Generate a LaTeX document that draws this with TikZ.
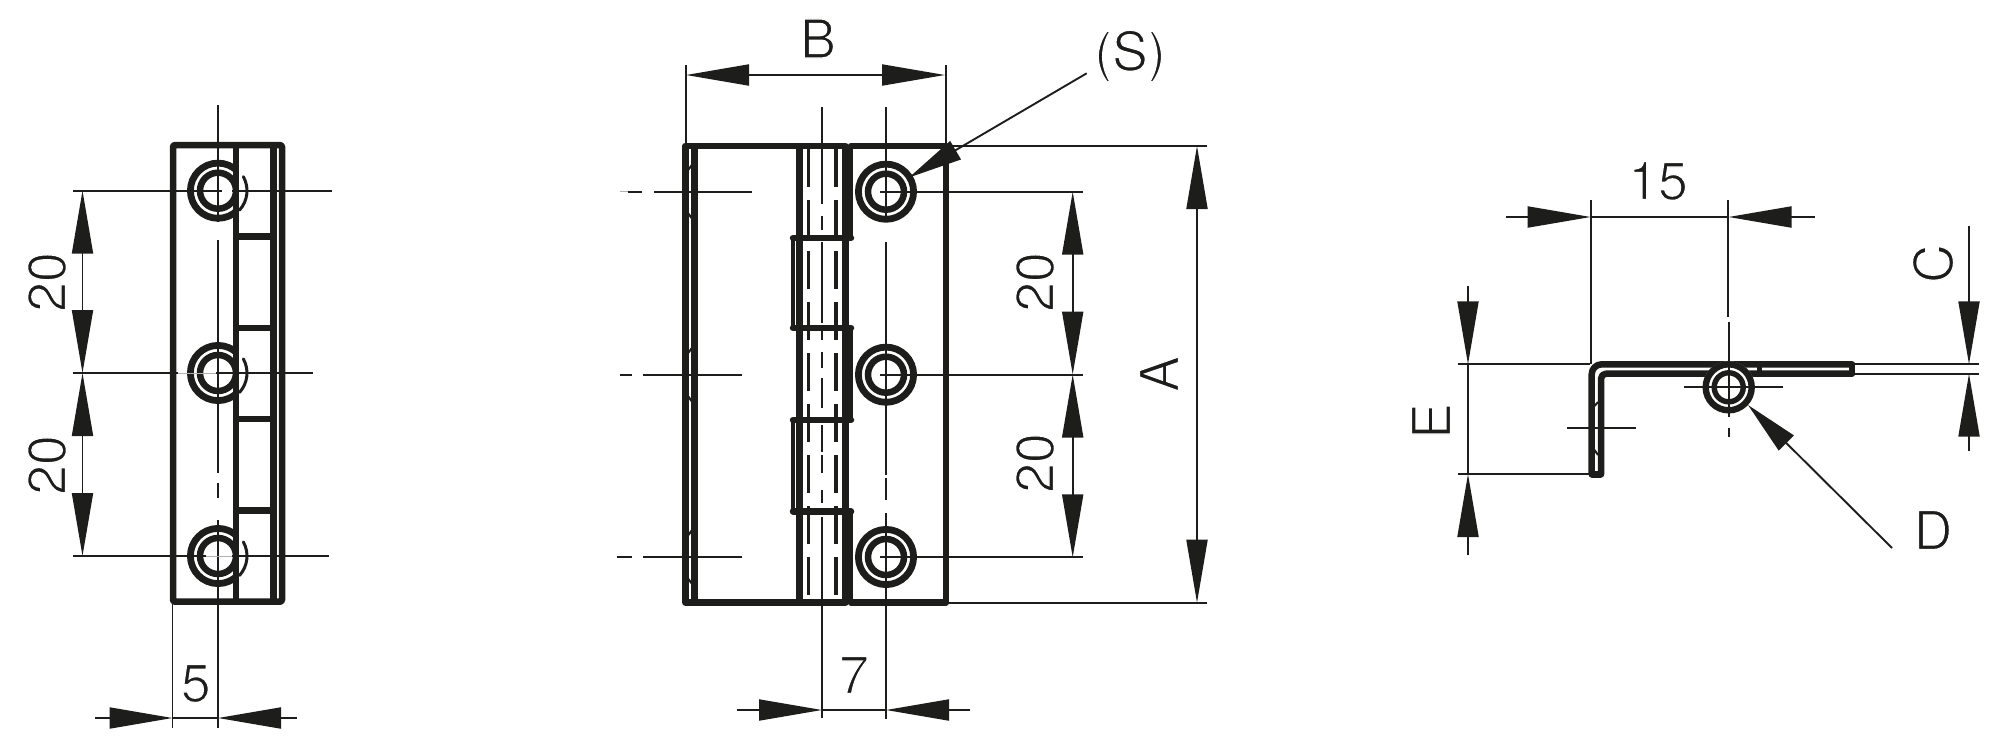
\documentclass[tikz,border=0pt]{standalone}
\usepackage{fontspec}
\setmainfont{TeX Gyre Heros}
\usetikzlibrary{arrows.meta}
\definecolor{ink}{HTML}{1D1D1B}
\newcommand{\slimtext}[1]{\special{pdf:code q 2 Tr 1.2 w 1 1 1 RG}#1\special{pdf:code Q}}
\tikzset{
  thickline/.style={draw=ink,line width=6.5pt,line join=round,line cap=round},
  midline/.style={draw=ink,line width=4pt,line join=round},
  thinline/.style={draw=ink,line width=1.9pt},
  faint/.style={draw=ink!35,line width=1pt},
  hiddenline/.style={draw=ink,line width=3.5pt,dash pattern=on 38pt off 13pt},
  bigtip/.tip={Triangle[length=63pt,width=21pt,sep=0pt]},
  shorttip/.tip={Triangle[length=54pt,width=21pt,sep=0pt]},
  ptip/.style={-{bigtip[fill=ink]}},
  leadertip/.style={-{shorttip[fill=ink]}},
  dualtip/.style={{bigtip[fill=ink]}-{bigtip[fill=ink]}},
  lbl/.style={inner sep=0pt,text=ink,font=\fontsize{53.5}{54}\selectfont},
  vlbl/.style={lbl,rotate=90},
}
\newcommand{\holerings}[2]{%
  \draw[draw=ink,line width=6.8pt] (#1,#2) circle[radius=27.6pt];
  \draw[draw=ink,line width=6.5pt] (#1,#2) circle[radius=18pt];
}
\begin{document}
\begin{tikzpicture}[x=1pt,y=-1pt]
\useasboundingbox (0,0) rectangle (2000,750);
%%% ---------- left view ----------
\begin{scope}
  \clip (100,100) rectangle (236,620);
  \holerings{218}{190.7}\holerings{218}{373}\holerings{218}{556}
\end{scope}
\foreach \yy in {190.7,373,556}{
  \draw[draw=ink,line width=3pt,line cap=round] (218,\yy) ++(29:29pt) arc[start angle=29,end angle=-42,radius=29pt];
}
\draw[thickline,rounded corners=1.5pt] (173,145) rectangle (282,601.7);
\draw[thickline,line cap=butt] (236,145)--(236,601.7);
\draw[thickline,line cap=butt] (273.3,145)--(273.3,601.7);
\foreach \yy in {236.7,328,419,510.7}{
  \draw[thickline,line cap=butt] (236,\yy)--(273.3,\yy);
}
% centre lines
\foreach \a/\b in {105/222,240/473,483/498,520/728}{
  \draw[thinline] (218,\a)--(218,\b);
}
\draw[thinline] (73,190.7)--(222,190.7) (232,190.7)--(332,190.7);
\draw[thinline] (73,373)--(178,373) (216,373)--(313,373);
\draw[faint] (178,373)--(216,373);
\draw[thinline] (73,556)--(206,556) (232,556)--(329,556);
\draw[faint] (206,556)--(232,556);
\draw[thinline] (172.5,602)--(172.5,728);
% dims
\coordinate (l20a) at (82.5,190.7);\coordinate (l20b) at (82.5,373);\coordinate (l20c) at (82.5,556);
\draw[thinline,dualtip] (l20a)--(l20b);
\draw[thinline,dualtip] (l20b)--(l20c);
\node[vlbl] (t20a) at (47,282) {\slimtext{20}};
\node[vlbl] (t20b) at (47,465) {\slimtext{20}};
\coordinate (f5a) at (95,718);\coordinate (f5b) at (172.5,718);\coordinate (f5c) at (218,718);\coordinate (f5d) at (297,718);
\draw[thinline,ptip] (f5a)--(f5b);
\draw[thinline,ptip] (f5d)--(f5c);
\draw[thinline] (f5b)--(f5c);
\node[lbl] (t5) at (195.7,683.5) {\slimtext{5}};
%%% ---------- middle view ----------
\draw[thickline,line cap=butt] (685.3,146)--(685.3,602.7)--(845.3,602.7)--(845.3,146)--cycle;
\draw[thickline,line cap=butt] (694.3,146)--(694.3,602.7);
\draw[thickline,line cap=butt] (799.3,146)--(799.3,602.7);
% plate mark ticks
\foreach \yy in {191.7,374.7,557}{
  \draw[draw=ink,line width=2pt] (688.5,\yy-22)--(692,\yy-27);
  \draw[draw=ink,line width=2pt] (688.5,\yy+22)--(692,\yy+27);
}
% right plate
\draw[midline] (851,238)--(851,146);
\draw[midline] (851,328)--(851,420);
\draw[midline] (851,511)--(851,602.7);
\draw[midline] (793,238)--(793,328);
\draw[midline] (793,420)--(793,511);
\draw[thickline] (851,146)--(946,146)--(946,602.7)--(851,602.7);
\foreach \yy in {238,328,420,511.3}{
  \draw[thickline] (793,\yy)--(851,\yy);
}
% hidden lines
\draw[hiddenline] (808.7,149)--(808.7,600);
\draw[hiddenline] (836,149)--(836,600);
% holes
\holerings{886}{191.7}\holerings{886}{374.7}\holerings{886}{557}
% centre lines
\foreach \a/\b in {107/204,216/230,242/323,328/340,352/368,378/408,425/452,455/473,490/503,517/718}{
  \draw[thinline] (822,\a)--(822,\b);
}
\foreach \a/\b in {107/222,242/475,478/500,513/719}{
  \draw[thinline] (886,\a)--(886,\b);
}
\draw[thinline] (628,191.7)--(642,191.7) (654,191.7)--(752,191.7);
\draw[faint] (620,191.7)--(628,191.7);
\draw[thinline] (620,374.7)--(632,374.7) (643,374.7)--(742,374.7);
\draw[thinline] (617,557)--(632,557) (643,557)--(742,557);
\foreach \yy in {191.7,374.7,557}{
  \draw[thinline] (880,\yy)--(1082.7,\yy);
}
% extensions
\draw[thinline] (686,65)--(686,146);
\draw[thinline] (946,65)--(946,146);
\draw[thinline] (946,146)--(1206.7,146);
\draw[thinline] (946,602.7)--(1206.7,602.7);
% dimension B
\coordinate (ba) at (686,75);\coordinate (bb) at (945,75);
\draw[thinline,dualtip] (ba)--(bb);
\node[lbl] (tB) at (818,38.5) {\slimtext{B}};
% leader S
\coordinate (sa) at (1086.7,73.3);\coordinate (sb) at (909,177.5);
\draw[thinline,leadertip] (sa)--(sb);
\node[lbl] (tS) at (1130,56) {\slimtext{(S)}};
% dimension A
\coordinate (aa) at (1197,146);\coordinate (ab) at (1197,602.7);
\draw[thinline,dualtip] (aa)--(ab);
\node[vlbl] (tA) at (1159,374) {\slimtext{A}};
% dimensions 20
\coordinate (r20a) at (1072.7,191.7);\coordinate (r20b) at (1072.7,374.5);\coordinate (r20c) at (1072.7,557.3);
\draw[thinline,dualtip] (r20a)--(r20b);
\draw[thinline,dualtip] (r20b)--(r20c);
\node[vlbl] (t20c) at (1035,282) {\slimtext{20}};
\node[vlbl] (t20d) at (1035,463) {\slimtext{20}};
% dimension 7
\coordinate (s7a) at (737,710);\coordinate (s7b) at (822,710);\coordinate (s7c) at (886,710);\coordinate (s7d) at (970,710);
\draw[thinline,ptip] (s7a)--(s7b);
\draw[thinline,ptip] (s7d)--(s7c);
\draw[thinline] (s7b)--(s7c);
\node[lbl] (t7) at (854,675) {\slimtext{7}};
%%% ---------- right view ----------
\draw[thickline,rounded corners=10pt] (1852,364.3)--(1591.7,364.3)--(1591.7,474);
\draw[thickline,rounded corners=5pt] (1852,373.7)--(1601,373.7)--(1601,474);
\draw[draw=ink,line width=7pt,line cap=round] (1592,474)--(1600.7,474);
\draw[thickline,line cap=butt] (1852,364.3)--(1852,373.7);
\draw[draw=ink,line width=5pt] (1759,364.3)--(1759,373.7);
\draw[draw=ink,line width=2pt] (1594.5,406)--(1598,402);
\draw[draw=ink,line width=2pt] (1594.5,450)--(1598,455);
\fill[white] (1728.7,387.3) circle[radius=26pt];
\draw[draw=ink,line width=6.4pt] (1728.7,387.3) circle[radius=23pt];
\draw[draw=ink,line width=5.4pt] (1728.7,387.3) circle[radius=14.5pt];
% centre lines
\draw[thinline] (1684,387.3)--(1783,387.3);
\draw[thinline] (1567,428)--(1635.7,428);
\draw[thinline] (1728.3,200)--(1728.3,317) (1728.7,322)--(1728.7,417) (1728.7,428)--(1728.7,437);
% extensions
\draw[thinline] (1590.7,200)--(1590.7,364);
\draw[thinline] (1458,364.3)--(1590,364.3);
\draw[thinline] (1458,474)--(1590,474);
\draw[thinline] (1855,364.3)--(1979,364.3);
\draw[thinline] (1855,373.7)--(1979,373.7);
% dimension 15
\coordinate (da) at (1506,217);\coordinate (db) at (1590.7,217);\coordinate (dc) at (1728.5,217);\coordinate (dd) at (1814.7,217);
\draw[thinline,ptip] (da)--(db);
\draw[thinline,ptip] (dd)--(dc);
\draw[thinline] (db)--(dc);
\node[lbl] (t15) at (1658,181) {\slimtext{15}};
% dimension E
\coordinate (ea) at (1468,286);\coordinate (eb) at (1468,364.3);\coordinate (ec) at (1468,474);\coordinate (ed) at (1468,555);
\draw[thinline,ptip] (ea)--(eb);
\draw[thinline,ptip] (ed)--(ec);
\draw[thinline] (eb)--(ec);
\node[vlbl] (tE) at (1431,421) {\slimtext{E}};
% dimension C
\coordinate (ca) at (1969,226);\coordinate (cb) at (1969,364.3);\coordinate (cc) at (1969,373.7);\coordinate (cd) at (1969,451);
\draw[thinline,ptip] (ca)--(cb);
\draw[thinline,ptip] (cd)--(cc);
\node[vlbl] (tC) at (1933,263.5) {\slimtext{C}};
% leader D
\coordinate (pa) at (1892,548);\coordinate (pb) at (1748,405);
\draw[thinline,leadertip] (pa)--(pb);
\node[lbl] (tD) at (1933,530) {\slimtext{D}};
\end{tikzpicture}
\end{document}
